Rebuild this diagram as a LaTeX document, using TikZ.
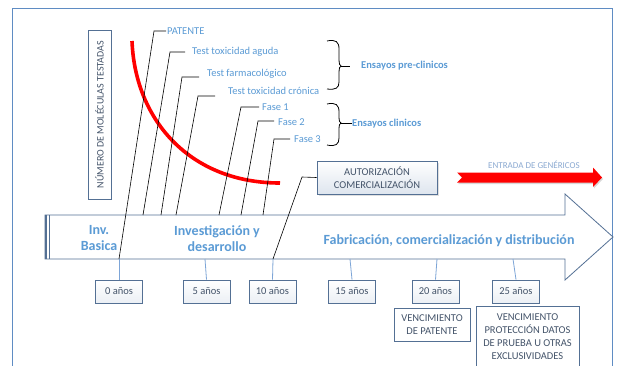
\documentclass[tikz,border=0pt]{standalone}
\usepackage{fontspec}
\setmainfont{Carlito}
\usetikzlibrary{shadows}

\definecolor{txtblue}{RGB}{91,155,213}
\definecolor{frameblue}{RGB}{95,140,195}
\definecolor{boxedge}{RGB}{84,112,148}
\definecolor{boxtext}{RGB}{68,84,106}
\definecolor{tickblue}{RGB}{125,165,215}
\definecolor{lightlbl}{RGB}{140,170,210}
\definecolor{boxshade}{RGB}{222,229,238}

\tikzset{
  yearbox/.style={draw=boxedge, line width=0.8pt, top color=white, bottom color=boxshade!60,
    text=boxtext, font=\fontsize{10.5}{12}\selectfont, minimum width=47pt,
    minimum height=23pt, inner sep=0pt},
  notebox/.style={draw=boxedge, line width=0.8pt, fill=white, text=boxtext,
    font=\fontsize{10.5}{13}\selectfont, align=center, inner sep=0pt},
  leadlbl/.style={anchor=west, inner sep=0pt, text=txtblue, font=\fontsize{10.5}{12}\selectfont},
  leader/.style={draw=black, line width=0.6pt},
  tick/.style={draw=tickblue, line width=0.8pt},
  phase/.style={text=txtblue, font=\fontsize{14}{16}\bfseries\selectfont, align=center},
  grouplbl/.style={anchor=west, inner sep=0pt, text=txtblue, font=\fontsize{10.5}{12}\bfseries\selectfont},
  bracepath/.style={draw=black, line width=0.8pt}
}

\begin{document}
\begin{tikzpicture}[x=1pt, y=-1pt]
\useasboundingbox (0,0) rectangle (618,365);
\fill[white] (0,0) rectangle (618,365);

% outer frame
\draw[frameblue, line width=0.9pt] (12,375) -- (12,8) -- (612,8) -- (612,375);

% vertical axis label
\node[draw=boxedge, line width=0.8pt, fill=white, rotate=90, minimum width=169pt,
  minimum height=23pt, inner sep=0pt, text=boxtext, font=\fontsize{10}{12}\selectfont]
  (axis) at (99.5,114.5) {NÚMERO DE MOLÉCULAS TESTADAS};

% main time arrow
\draw[boxedge, line width=0.8pt, fill=white]
  (45,215) -- (565,215) -- (565,194) -- (613,237) -- (565,280) -- (565,259) -- (45,259) -- cycle;
\draw[boxedge, line width=2pt] (46,215) -- (46,259);
\draw[boxedge, line width=0.8pt] (49,215) -- (49,259);

\node[phase] (inv) at (99,238) {Inv.\\Basica};
\node[phase] (id) at (217,239) {Investigación y\\desarrollo};
\node[phase] (fab) at (449,241) {Fabricación, comercialización y distribución};

% decreasing number of tested molecules
\draw[red, line width=3.6pt] (132,41) .. controls (135,120) and (190,183) .. (280,183);

% year boxes
\node[yearbox] (y0)  at (119,291.5) {0 años};
\node[yearbox] (y5)  at (206.5,291.5) {5 años};
\node[yearbox] (y10) at (272.5,291.5) {10 años};
\node[yearbox] (y15) at (352,291.5) {15 años};
\node[yearbox] (y20) at (435.5,291.5) {20 años};
\node[yearbox] (y25) at (516,291.5) {25 años};

\coordinate (t0)  at (119,259);
\coordinate (t5)  at (205,259);
\coordinate (t10) at (273,259);
\coordinate (t15) at (350,259);
\coordinate (t20) at (437,259);
\coordinate (t25) at (513,259);
\draw[tick] (t0) -- (y0.north);
\draw[tick] (t5) -- (y5.north);
\draw[tick] (t10) -- (y10.north);
\draw[tick] (t15) -- (y15.north);
\draw[tick] (t20) -- (y20.north);
\draw[tick] (t25) -- (y25.north);

\node[notebox, minimum width=76pt, minimum height=33pt] (venpat) at (432,324.5)
  {VENCIMIENTO\\DE PATENTE};
\node[notebox, minimum width=103pt, minimum height=62pt] (vendat) at (527.5,337)
  {VENCIMIENTO\\PROTECCIÓN DATOS\\DE PRUEBA U OTRAS\\EXCLUSIVIDADES};

% milestone labels
\node[leadlbl] (patL) at (167,31) {PATENTE};
\node[leadlbl] (agL) at (192,52) {Test toxicidad aguda};
\node[leadlbl] (faL) at (207,74) {Test farmacológico};
\node[leadlbl] (crL) at (228,91) {Test toxicidad crónica};
\node[leadlbl] (f1L) at (262,107) {Fase 1};
\node[leadlbl] (f2L) at (278,122) {Fase 2};
\node[leadlbl] (f3L) at (294,139) {Fase 3};

\coordinate (patB) at (119,259); \coordinate (patC) at (154,31); \coordinate (patE) at (166,31);
\coordinate (agB) at (143,215);  \coordinate (agC) at (170,52);  \coordinate (agE) at (185,52);
\coordinate (faB) at (161,215);  \coordinate (faC) at (182,77);  \coordinate (faE) at (199,77);
\coordinate (crB) at (176,215);  \coordinate (crC) at (198,96);  \coordinate (crE) at (215,96);
\coordinate (f1B) at (219,215);  \coordinate (f1C) at (241,107); \coordinate (f1E) at (259,107);
\coordinate (f2B) at (241,215);  \coordinate (f2C) at (258,121); \coordinate (f2E) at (274,121);
\coordinate (f3B) at (263,215);  \coordinate (f3C) at (274,139); \coordinate (f3E) at (290,139);

\draw[leader] (patB) -- (patC) -- (patE);
\draw[leader] (agB) -- (agC) -- (agE);
\draw[leader] (faB) -- (faC) -- (faE);
\draw[leader] (crB) -- (crC) -- (crE);
\draw[leader] (f1B) -- (f1C) -- (f1E);
\draw[leader] (f2B) -- (f2C) -- (f2E);
\draw[leader] (f3B) -- (f3C) -- (f3E);

% marketing authorisation
\node[draw=boxedge, line width=0.8pt, top color=white, bottom color=boxshade, text=boxtext,
  font=\fontsize{10.5}{13}\selectfont, align=center, minimum width=120pt, minimum height=33pt,
  inner sep=0pt, drop shadow={opacity=0.25, shadow xshift=1.5pt, shadow yshift=-1.5pt}]
  (aut) at (377,177.5) {AUTORIZACIÓN\\COMERCIALIZACIÓN};
\coordinate (autB) at (273,259); \coordinate (autC) at (302,177);
\draw[leader] (autB) -- (autC) -- (aut.west);

% brace: pre-clinical trials
\coordinate (pcT) at (327,41); \coordinate (pcB) at (327,89); \coordinate (pcM) at (350,66);
\draw[bracepath] (pcT) .. controls (336,39) and (339,42) .. (339,49) -- (339,59)
  .. controls (339,64) and (340,66) .. (341,66) .. controls (340,66) and (339,68) .. (339,73)
  -- (339,82) .. controls (339,88) and (336,90) .. (pcB);
\draw[bracepath] (341,66) -- (pcM);
\node[grouplbl] (pc) at (361,66) {Ensayos pre-clinicos};

% brace: clinical trials
\coordinate (clT) at (327,104); \coordinate (clB) at (327,145); \coordinate (clM) at (352,123);
\draw[bracepath] (clT) .. controls (336,102) and (339,105) .. (339,112) -- (339,117)
  .. controls (339,121) and (340,123) .. (341,123) .. controls (340,123) and (339,125) .. (339,129)
  -- (339,138) .. controls (339,144) and (336,147) .. (clB);
\draw[bracepath] (341,123) -- (clM);
\node[grouplbl] (cl) at (352,124) {Ensayos clinicos};

% generics entry
\node[text=lightlbl, font=\fontsize{9}{10}\selectfont] (gen) at (534,165) {ENTRADA DE GENÉRICOS};
\fill[red, drop shadow={opacity=0.3, shadow xshift=1pt, shadow yshift=-1.5pt}]
  (457,172.5) -- (593,172.5) -- (593,167.5) -- (602,177.5) -- (593,187) -- (593,182.5)
  -- (457,182.5) -- (462,177.5) -- cycle;
\end{tikzpicture}
\end{document}
